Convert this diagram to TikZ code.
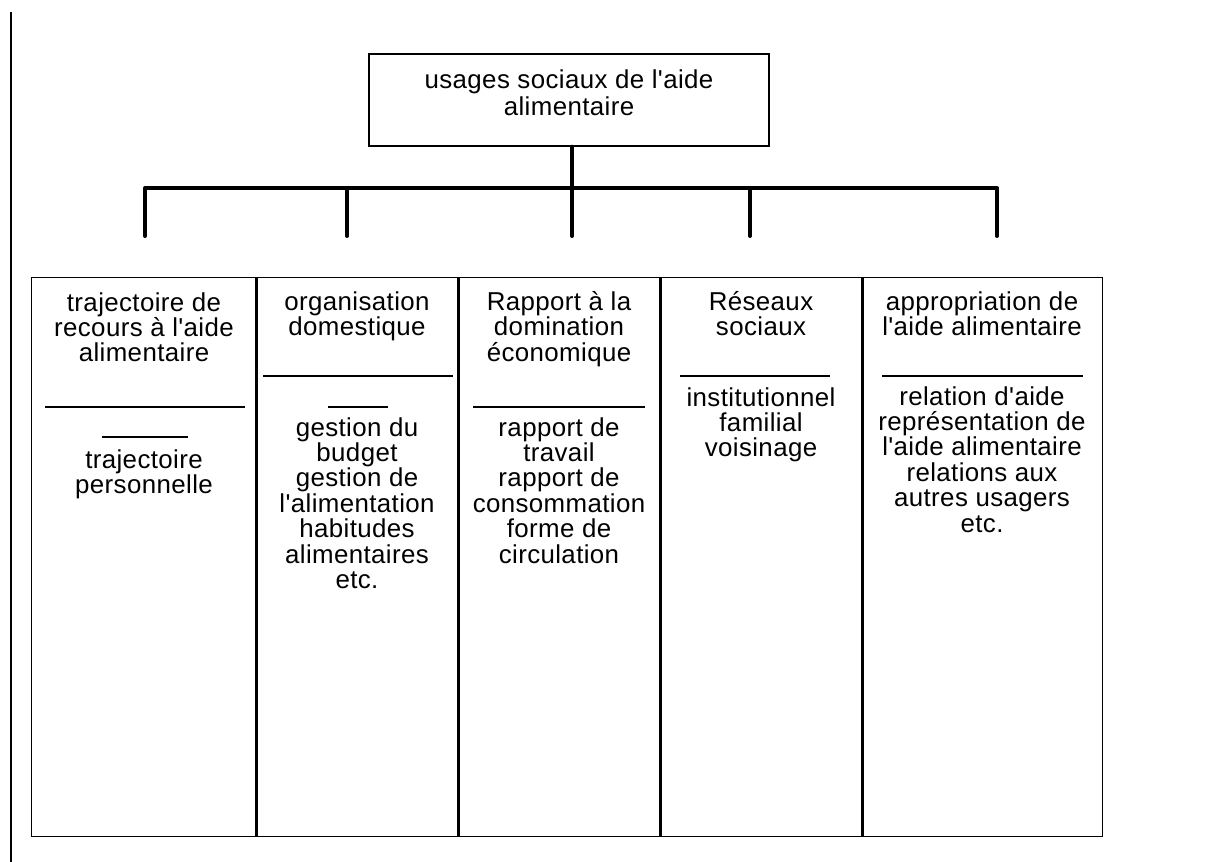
\documentclass[tikz,border=0pt]{standalone}
\usepackage{fontspec}
\setmainfont{Liberation Sans}[Ligatures=TeXOff,LetterSpace=1.5]
\begin{document}
\begin{tikzpicture}[x=0.75pt,y=-0.75pt,
  txt/.style={align=center,inner sep=0pt,anchor=north,
    font=\fontsize{19.4}{19.1}\selectfont,
    execute at begin node={\rule{0pt}{17pt}}},
  ttltxt/.style={txt,font=\fontsize{19.4}{20.4}\selectfont},
  thinln/.style={line width=1.1pt,black},
  divln/.style={line width=2.6pt,black},
  barln/.style={line width=3.6pt,black},
  dropln/.style={line width=3pt,black,line cap=round},
  colbox/.style={inner sep=0pt,minimum height=418.5pt}]
\useasboundingbox (0,0) rectangle (1212,862);
% left margin line
\draw[thinln] (11,12) -- (11,862);
% top box
\node[draw,thinln,inner sep=0pt,minimum width=300pt,minimum height=69pt] (top) at (569,100) {};
\node[ttltxt] (ttl) at (569,69) {usages sociaux de l'aide\\alimentaire};
% connector tree
\coordinate (bc) at (572,188);
\foreach \i/\xx in {1/145,2/347,3/572,4/750,5/997}{
  \coordinate (b\i) at (\xx,188);
  \coordinate (d\i) at (\xx,236);
}
\draw[dropln] (top.south -| bc) -- (bc);
\draw[barln] (b1) -- (b5);
\foreach \i in {1,...,5}{\draw[dropln] (b\i) -- (d\i);}
% columns
\node[colbox,minimum width=168pt] (c1) at (144,557) {};
\node[colbox,minimum width=151.5pt] (c2) at (357,557) {};
\node[colbox,minimum width=151.5pt] (c3) at (559,557) {};
\node[colbox,minimum width=151.5pt] (c4) at (761,557) {};
\node[colbox,minimum width=180pt] (c5) at (982,557) {};
\draw[thinln] (c1.north west) rectangle (c5.south east);
\foreach \i in {1,...,4}{\draw[divln] (c\i.north east) -- (c\i.south east);}
% separators
\draw[thinln] (45,407) -- (245,407);
\draw[thinln] (102,437) -- (188,437);
\draw[thinln] (263,376) -- (453,376);
\draw[thinln] (328,407) -- (388,407);
\draw[thinln] (473,407) -- (645,407);
\draw[thinln] (680,376) -- (830,376);
\draw[thinln] (882,376) -- (1083,376);
% headers
\node[txt] (h1) at (144,292) {trajectoire de\\recours à l'aide\\alimentaire};
\node[txt] (h2) at (357,291) {organisation\\domestique};
\node[txt] (h3) at (559,291) {Rapport à la\\domination\\économique};
\node[txt] (h4) at (761,291) {Réseaux\\sociaux};
\node[txt] (h5) at (982,291) {appropriation de\\l'aide alimentaire};
% bodies
\node[txt] (t1) at (144,449) {trajectoire\\personnelle};
\node[txt] (t2) at (357,417) {gestion du\\budget\\gestion de\\l'alimentation\\habitudes\\alimentaires\\etc.};
\node[txt] (t3) at (559,417) {rapport de\\travail\\rapport de\\consommation\\forme de\\circulation};
\node[txt] (t4) at (761,387) {institutionnel\\familial\\voisinage};
\node[txt] (t5) at (982,386) {relation d'aide\\représentation de\\l'aide alimentaire\\relations aux\\autres usagers\\etc.};
\end{tikzpicture}
\end{document}
